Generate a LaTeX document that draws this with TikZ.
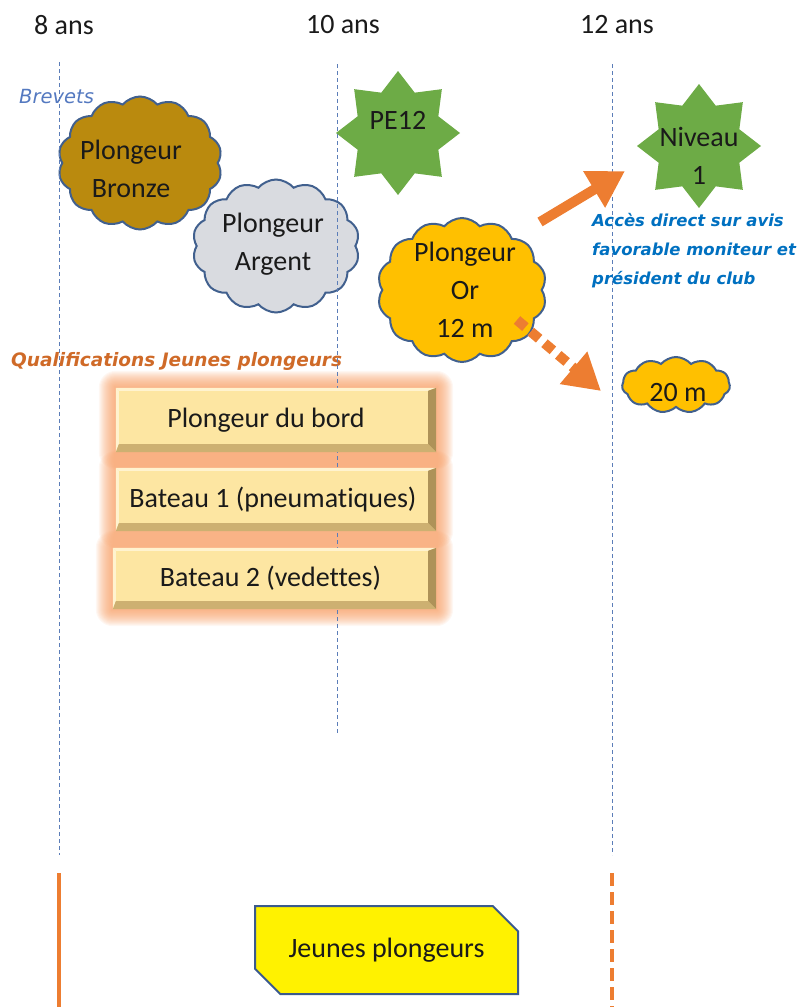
\documentclass[tikz,border=0pt]{standalone}
\usepackage{fontspec}
\setmainfont{Carlito}[Ligatures={NoCommon}]
\newfontfamily\dvsans{DejaVu Sans}[ItalicFont={DejaVu Sans Oblique},BoldFont={DejaVu Sans Bold},BoldItalicFont={DejaVu Sans Bold Oblique}]
\usetikzlibrary{shapes.symbols,shapes.geometric,shapes.misc,arrows.meta}
\definecolor{bronzefill}{HTML}{BA8A0E}
\definecolor{argentfill}{HTML}{D9DBE0}
\definecolor{orfill}{HTML}{FFC000}
\definecolor{cloudline}{HTML}{41608E}
\definecolor{stargreen}{HTML}{6DAB46}
\definecolor{orangeA}{HTML}{ED7D31}
\definecolor{guideblue}{HTML}{5B7DB8}
\definecolor{accblue}{HTML}{0070C0}
\definecolor{qualorange}{HTML}{CF6A28}
\definecolor{brevblue}{HTML}{5479C0}
\definecolor{qface}{HTML}{FDE6A2}
\definecolor{qlight}{HTML}{FFF3CF}
\definecolor{qright}{HTML}{AE9258}
\definecolor{qbottom}{HTML}{CDB071}
\definecolor{glowc}{HTML}{F79A5E}
\definecolor{jpline}{HTML}{3B5A8C}
\definecolor{txt}{HTML}{1A1A1A}
\pgfdeclarelayer{background}
\pgfsetlayers{background,main}
\newcommand\bevelbox[1]{%
  \fill[qlight] (#1.north west) -- (#1.north east) -- ([shift={(-8,3)}]#1.north east) -- ([shift={(3,3)}]#1.north west) -- cycle;
  \fill[qlight] (#1.north west) -- ([shift={(3,3)}]#1.north west) -- ([shift={(3,-8)}]#1.south west) -- (#1.south west) -- cycle;
  \fill[qright] (#1.north east) -- (#1.south east) -- ([shift={(-8,-8)}]#1.south east) -- ([shift={(-8,3)}]#1.north east) -- cycle;
  \fill[qbottom] (#1.south west) -- (#1.south east) -- ([shift={(-8,-8)}]#1.south east) -- ([shift={(3,-8)}]#1.south west) -- cycle;
  \begin{pgfonlayer}{background}
  \foreach \d in {1,2,...,17}{
    \fill[glowc, opacity=0.075, rounded corners=\d] ([shift={(-\d,-\d)}]#1.north west) rectangle ([shift={(\d,\d)}]#1.south east);
  }
  \end{pgfonlayer}
}
\begin{document}
\begin{tikzpicture}[x=1pt,y=-1pt,
  year/.style={font=\fontsize{28}{30}\selectfont, text=txt, inner sep=0},
  guide/.style={draw=guideblue, line width=1, dash pattern=on 4 off 3},
  cloudnode/.style={cloud, cloud puffs=14, cloud puff arc=100, draw=cloudline, line width=2, inner sep=0},
  cloudlbl/.style={inner sep=0, align=center, text=txt, font=\fontsize{28}{38}\selectfont},
  starnode/.style={star, star points=8, star point ratio=1.42, fill=stargreen, inner sep=0, minimum size=124},
  qbox/.style={rectangle, fill=qface, inner sep=0, text=txt, font=\fontsize{28}{30}\selectfont},
  arrsolid/.style={draw=orangeA, line width=10, -{Triangle[length=36pt,width=40pt]}},
  arrdash/.style={draw=orangeA, line width=10, dash pattern=on 11 off 7, -{Triangle[length=36pt,width=40pt]}},
]
\useasboundingbox (0,0) rectangle (807,1007);

% year labels
\node[year] (y8) at (64,25) {8 ans};
\node[year] (y10) at (343,25) {10 ans};
\node[year] (y12) at (617,25) {12 ans};

% section titles
\node[anchor=west, inner sep=0, text=brevblue, font=\dvsans\itshape\fontsize{19.5}{22}\selectfont] (brev) at (19,97) {Brevets};
\node[anchor=west, inner sep=0, text=qualorange, font=\dvsans\bfseries\itshape\fontsize{18.5}{22}\selectfont] (qual) at (11,361) {Qualifications Jeunes plongeurs};

% clouds
\node[cloudnode, fill=bronzefill, minimum width=164, minimum height=133] (bronze) at (140,163) {};
\node[cloudlbl] at (131,169) {Plongeur\\Bronze};
\node[cloudnode, fill=argentfill, minimum width=167, minimum height=133] (argent) at (276,246) {};
\node[cloudlbl] at (273,244) {Plongeur\\Argent};
\node[cloudnode, fill=orfill, minimum width=169, minimum height=144] (or) at (462,290) {};
\node[cloudlbl] at (465,290) {Plongeur\\Or\\12 m};
\node[cloudnode, fill=orfill, cloud puffs=11, minimum width=108, minimum height=56] (vingt) at (676,385) {};
\node[cloudlbl] at (678,393) {20 m};

% stars
\node[starnode] (pe12) at (398,133) {};
\node[cloudlbl] at ([yshift=13pt]pe12.center) {PE12};
\node[starnode] (niv) at (699,146) {};
\node[cloudlbl] at ([yshift=-10pt]niv.center) {Niveau\\1};

% guides
\draw[guide] (59,62) -- (59,855);
\draw[guide] (337,64) -- (337,735);
\draw[guide] (612,64) -- (612,855);

% access text
\node[anchor=north west, inner sep=0, align=left, text=accblue, font=\dvsans\bfseries\itshape\fontsize{16.5}{29}\selectfont] (acc) at (592,213) {Accès direct sur avis\\favorable moniteur et\\président du club};

% arrows
\coordinate (a1s) at (540,222);
\coordinate (a1e) at (625,171);
\draw[arrsolid] (a1s) -- (a1e);
\coordinate (a2s) at (517,320);
\coordinate (a2e) at (601,391);
\draw[arrdash] (a2s) -- (a2e);

% qualification boxes
\node[qbox, minimum width=320, minimum height=64] (q1) at (276,420) {\raisebox{3pt}{Plongeur du bord}\hspace{20pt}\null};
\bevelbox{q1}
\node[qbox, minimum width=320, minimum height=63] (q2) at (276,499.5) {\raisebox{3pt}{Bateau 1 (pneumatiques)}\hspace{6pt}\null};
\bevelbox{q2}
\node[qbox, minimum width=323, minimum height=61] (q3) at (274.5,578.5) {\raisebox{3pt}{Bateau 2 (vedettes)}\hspace{8pt}\null};
\bevelbox{q3}

% bottom
\draw[draw=orangeA, line width=4] (59,873) -- (59,1007);
\draw[draw=orangeA, line width=4, dash pattern=on 13 off 6] (612,873) -- (612,1007);
\node[chamfered rectangle, chamfered rectangle corners={north east,south west}, chamfered rectangle xsep=13pt, chamfered rectangle ysep=13pt, draw=jpline, line width=2, fill=yellow, minimum width=263, minimum height=88, inner sep=0, text=txt, font=\fontsize{28}{30}\selectfont] (jp) at (386.5,950) {\raisebox{5pt}{Jeunes plongeurs}};
\end{tikzpicture}
\end{document}
